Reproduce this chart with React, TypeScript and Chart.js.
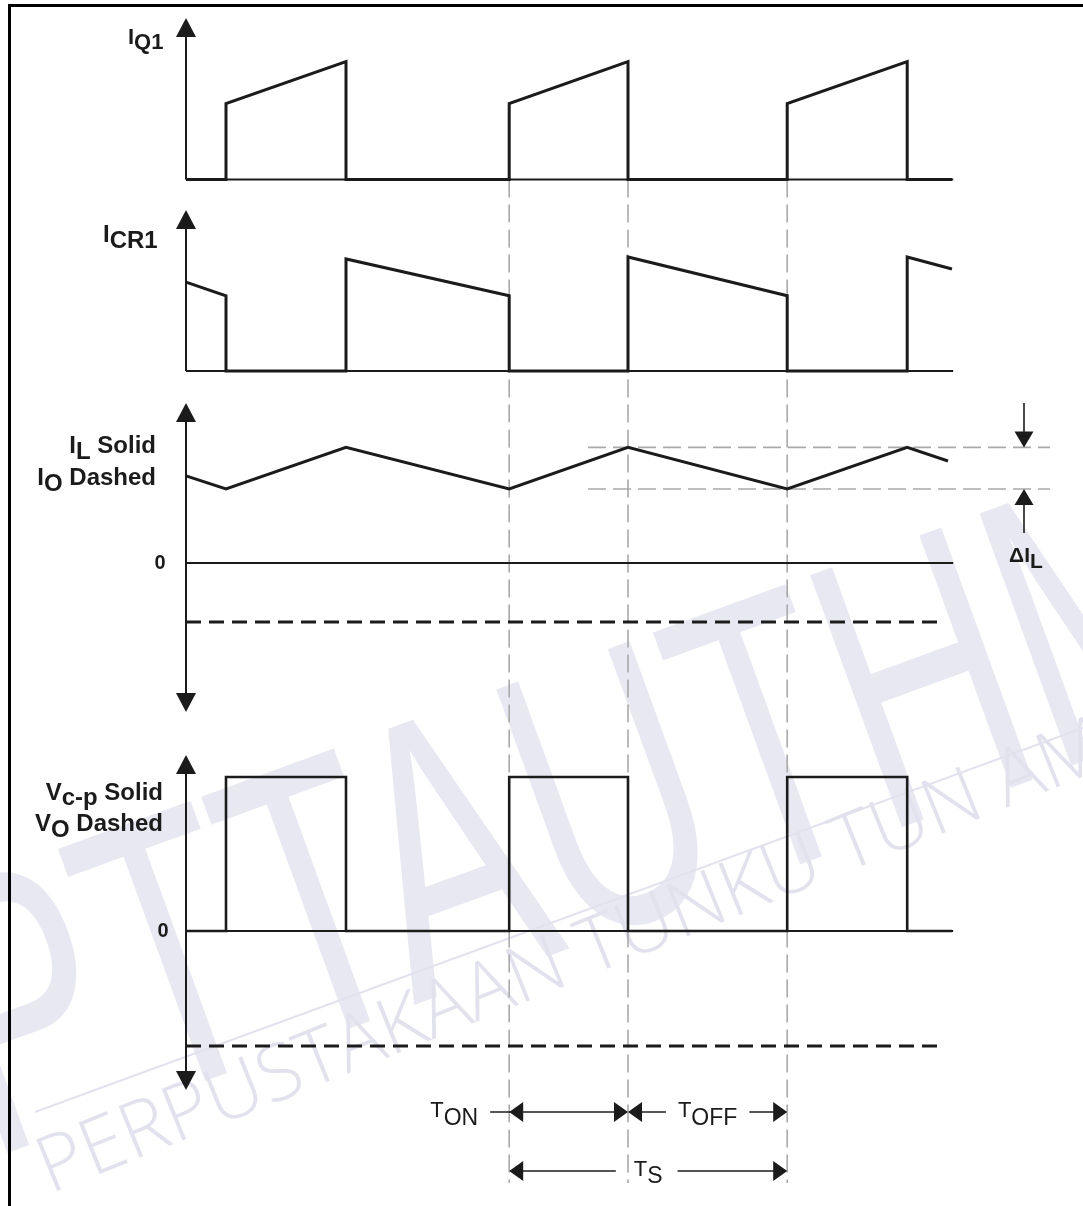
import React, { useEffect, useRef } from 'react';
import { Chart, registerables } from 'chart.js';

Chart.register(...registerables);

const CANVAS_W = 1083;
const CANVAS_H = 1206;
const FONT = '"Liberation Sans", Arial, Helvetica, sans-serif';
const INK = '#1b1b1b';
const GUIDE = '#a9a9a9';

// ---------- data (time / amplitude in arbitrary units) ----------
const SWITCH_ON = [1.0, 8.08, 15.03];
const SWITCH_OFF = [4.0, 11.05, 18.03];
const AXIS_END = 19.18;

const IQ1_TIME = [0, 1.0, 1.0, 4.0, 4.0, 8.08, 8.08, 11.05, 11.05, 15.03, 15.03, 18.03, 18.03, 19.15];
const IQ1_VALUE = [0, 0, 1.9, 2.95, 0, 0, 1.9, 2.95, 0, 0, 1.9, 2.95, 0, 0];

const ICR1_TIME = [0, 1.0, 1.0, 4.0, 4.0, 8.08, 8.08, 11.05, 11.05, 15.03, 15.03, 18.03, 18.03, 19.15];
const ICR1_VALUE = [2.22, 1.88, 0, 0, 2.8, 1.88, 0, 0, 2.85, 1.88, 0, 0, 2.85, 2.55];

const IL_TIME = [0, 1.0, 4.0, 8.08, 11.05, 15.03, 18.03, 19.05];
const IL_VALUE = [2.18, 1.85, 2.89, 1.85, 2.89, 1.85, 2.89, 2.55];
const IO_TIME = [0, 18.78];
const IO_VALUE = [-1.475, -1.475];
const IL_PEAK = 2.89;
const IL_VALLEY = 1.85;
const RIPPLE_TIME = [10.05, 21.6];

const VCP_TIME = [0, 1.0, 1.0, 4.0, 4.0, 8.08, 8.08, 11.05, 11.05, 15.03, 15.03, 18.03, 18.03, 19.15];
const VCP_VALUE = [0, 0, 3.85, 3.85, 0, 0, 3.85, 3.85, 0, 0, 3.85, 3.85, 0, 0];
const VO_TIME = [0, 18.78];
const VO_VALUE = [-2.875, -2.875];

// ---------- text ----------
type Part = { text: string; sub?: boolean };
const LABEL_IQ1: Part[] = [{ text: 'I' }, { text: 'Q1', sub: true }];
const LABEL_ICR1: Part[] = [{ text: 'I' }, { text: 'CR1', sub: true }];
const LABEL_IL: Part[] = [{ text: 'I' }, { text: 'L', sub: true }, { text: ' Solid' }];
const LABEL_IO: Part[] = [{ text: 'I' }, { text: 'O', sub: true }, { text: ' Dashed' }];
const LABEL_VCP: Part[] = [{ text: 'V' }, { text: 'c-p', sub: true }, { text: ' Solid' }];
const LABEL_VO: Part[] = [{ text: 'V' }, { text: 'O', sub: true }, { text: ' Dashed' }];
const LABEL_DIL: Part[] = [{ text: '\u0394I' }, { text: 'L', sub: true }];
const LABEL_TON: Part[] = [{ text: 'T' }, { text: 'ON', sub: true }];
const LABEL_TOFF: Part[] = [{ text: 'T' }, { text: 'OFF', sub: true }];
const LABEL_TS: Part[] = [{ text: 'T' }, { text: 'S', sub: true }];
const ZERO_LABEL = '0';
const WATERMARK_BIG = 'PTTAUTHM';
const WATERMARK_SMALL = 'PERPUSTAKAAN TUNKU TUN AMINAH';

// ---------- layout (scale placement) ----------
const PX_PER_UNIT = 40;
const X_ORIGIN_PX = 186;
const PANEL_ZERO_PX = { yQ: 179.5, yC: 371, yL: 563, yV: 931 };
const AXIS_TOP = { yQ: 4.04, yC: 4.025, yL: 4.0, yV: 4.4 };
const AXIS_BOTTOM = { yQ: 0, yC: 0, yL: -3.725, yV: -3.975 };
const GUIDE_BOTTOM_V = -6.3;
const TIMING_ROW1_V = -4.525;
const TIMING_ROW2_V = -6.0;
const DIL_TAIL_TOP_L = 4.0;
const DIL_TAIL_BOTTOM_L = 0.75;
const DIL_TIME = 20.95;

function panelScale(zeroPx: number) {
  return {
    type: 'linear' as const,
    display: false,
    min: -(CANVAS_H - zeroPx) / PX_PER_UNIT,
    max: zeroPx / PX_PER_UNIT,
  };
}

function arrowHead(ctx: CanvasRenderingContext2D, x: number, y: number, dir: string, len: number, half: number) {
  ctx.beginPath();
  ctx.moveTo(x, y);
  if (dir === 'up') { ctx.lineTo(x - half, y + len); ctx.lineTo(x + half, y + len); }
  if (dir === 'down') { ctx.lineTo(x - half, y - len); ctx.lineTo(x + half, y - len); }
  if (dir === 'left') { ctx.lineTo(x + len, y - half); ctx.lineTo(x + len, y + half); }
  if (dir === 'right') { ctx.lineTo(x - len, y - half); ctx.lineTo(x - len, y + half); }
  ctx.closePath();
  ctx.fill();
}

function line(ctx: CanvasRenderingContext2D, x1: number, y1: number, x2: number, y2: number) {
  ctx.beginPath();
  ctx.moveTo(x1, y1);
  ctx.lineTo(x2, y2);
  ctx.stroke();
}

function richWidth(ctx: CanvasRenderingContext2D, parts: Part[], font: string, subFont: string) {
  return parts.reduce((w, p) => {
    ctx.font = p.sub ? subFont : font;
    return w + ctx.measureText(p.text).width;
  }, 0);
}

function richText(ctx: CanvasRenderingContext2D, parts: Part[], x: number, y: number, align: string,
  font: string, subFont: string, subShift: number) {
  const total = richWidth(ctx, parts, font, subFont);
  let cx = align === 'right' ? x - total : align === 'center' ? x - total / 2 : x;
  ctx.textAlign = 'left';
  ctx.textBaseline = 'alphabetic';
  for (const p of parts) {
    ctx.font = p.sub ? subFont : font;
    ctx.fillText(p.text, cx, p.sub ? y + subShift : y);
    cx += ctx.measureText(p.text).width;
  }
  return total;
}

const diagramPlugin = {
  id: 'diagram',
  beforeDatasetsDraw(chart: any) {
    const ctx: CanvasRenderingContext2D = chart.ctx;
    const sx = chart.scales.x;
    const s = chart.scales;

    // watermark
    ctx.save();
    ctx.fillStyle = 'rgb(232,232,242)';
    ctx.translate(-12, 1160);
    ctx.rotate(-20 * Math.PI / 180);
    ctx.scale(0.64, 1);
    ctx.font = `390px ${FONT}`;
    ctx.fillText(WATERMARK_BIG, 0, 0);
    ctx.restore();

    ctx.save();
    ctx.fillStyle = 'rgb(226,226,238)';
    ctx.translate(50, 1194);
    ctx.rotate(-22 * Math.PI / 180);
    ctx.font = `300 78px "Open Sans", ${FONT}`;
    ctx.fillText(WATERMARK_SMALL, 0, 0);
    ctx.restore();

    ctx.save();
    ctx.strokeStyle = 'rgb(226,226,238)';
    ctx.lineWidth = 2;
    line(ctx, 35, 1112, 1083, 728);
    ctx.restore();

    // vertical timing guides
    ctx.save();
    ctx.strokeStyle = GUIDE;
    ctx.lineWidth = 1.6;
    ctx.setLineDash([18, 7]);
    const guideTimes = [SWITCH_ON[1], SWITCH_OFF[1], SWITCH_ON[2]];
    for (const t of guideTimes) {
      const px = sx.getPixelForValue(t);
      line(ctx, px, s.yQ.getPixelForValue(0), px, s.yV.getPixelForValue(GUIDE_BOTTOM_V));
    }
    ctx.restore();

    // panel axes with arrow heads
    ctx.save();
    ctx.strokeStyle = INK;
    ctx.fillStyle = INK;
    ctx.lineWidth = 2;
    const ax = sx.getPixelForValue(0);
    for (const id of ['yQ', 'yC', 'yL', 'yV']) {
      const sc = s[id];
      const top = sc.getPixelForValue((AXIS_TOP as any)[id]);
      const bottomVal = (AXIS_BOTTOM as any)[id];
      const bottom = sc.getPixelForValue(bottomVal);
      line(ctx, ax, bottom - (bottomVal < 0 ? 10 : 0), ax, top + 10);
      line(ctx, ax, sc.getPixelForValue(0), sx.getPixelForValue(AXIS_END), sc.getPixelForValue(0));
      arrowHead(ctx, ax, top, 'up', 19, 10);
      if (bottomVal < 0) arrowHead(ctx, ax, bottom, 'down', 19, 10);
    }
    ctx.restore();
  },
  afterDatasetsDraw(chart: any) {
    const ctx: CanvasRenderingContext2D = chart.ctx;
    const sx = chart.scales.x;
    const s = chart.scales;
    ctx.save();
    ctx.fillStyle = INK;
    ctx.strokeStyle = INK;

    const B24 = `bold 24px ${FONT}`;
    richText(ctx, LABEL_IQ1, 128, 44, 'left', `bold 22px ${FONT}`, `bold 22px ${FONT}`, 5);
    richText(ctx, LABEL_ICR1, 103, 242, 'left', B24, B24, 6);
    richText(ctx, LABEL_IL, 156, 453, 'right', B24, B24, 6);
    richText(ctx, LABEL_IO, 156, 485, 'right', B24, B24, 6);
    richText(ctx, LABEL_VCP, 163, 800, 'right', B24, B24, 5);
    richText(ctx, LABEL_VO, 163, 831, 'right', B24, B24, 6);

    ctx.font = `bold 20px ${FONT}`;
    ctx.textAlign = 'center';
    ctx.textBaseline = 'middle';
    ctx.fillText(ZERO_LABEL, 160, s.yL.getPixelForValue(0));
    ctx.fillText(ZERO_LABEL, 163, s.yV.getPixelForValue(0));

    // delta IL marker
    ctx.lineWidth = 1.6;
    const dx = sx.getPixelForValue(DIL_TIME);
    const yPeak = s.yL.getPixelForValue(IL_PEAK);
    const yValley = s.yL.getPixelForValue(IL_VALLEY);
    line(ctx, dx, s.yL.getPixelForValue(DIL_TAIL_TOP_L), dx, yPeak - 12);
    arrowHead(ctx, dx, yPeak, 'down', 16, 9.5);
    line(ctx, dx, s.yL.getPixelForValue(DIL_TAIL_BOTTOM_L), dx, yValley + 12);
    arrowHead(ctx, dx, yValley, 'up', 16, 9.5);
    richText(ctx, LABEL_DIL, dx + 2, 562, 'center', `bold 21px ${FONT}`, `bold 21px ${FONT}`, 6);

    // timing annotations
    const N22 = `22px ${FONT}`;
    const N23 = `23px ${FONT}`;
    const xOn = sx.getPixelForValue(SWITCH_ON[1]);
    const xOff = sx.getPixelForValue(SWITCH_OFF[1]);
    const xNext = sx.getPixelForValue(SWITCH_ON[2]);
    const r1 = s.yV.getPixelForValue(TIMING_ROW1_V);
    const r2 = s.yV.getPixelForValue(TIMING_ROW2_V);
    ctx.lineWidth = 1.6;
    line(ctx, xOn - 19, r1, xOff - 5, r1);
    arrowHead(ctx, xOn, r1, 'left', 14, 10);
    arrowHead(ctx, xOff, r1, 'right', 14, 10);
    richText(ctx, LABEL_TON, xOn - 31, r1 + 5, 'right', N22, N23, 8);
    arrowHead(ctx, xOff, r1, 'left', 14, 10);
    const mid1 = (xOff + xNext) / 2;
    const wOff = richWidth(ctx, LABEL_TOFF, N22, N23);
    line(ctx, xOff + 5, r1, mid1 - wOff / 2 - 12, r1);
    line(ctx, mid1 + wOff / 2 + 12, r1, xNext - 5, r1);
    arrowHead(ctx, xNext, r1, 'right', 14, 10);
    richText(ctx, LABEL_TOFF, mid1, r1 + 5, 'center', N22, N23, 8);
    const mid2 = (xOn + xNext) / 2;
    const wS = richWidth(ctx, LABEL_TS, N22, N23);
    arrowHead(ctx, xOn, r2, 'left', 14, 10);
    line(ctx, xOn + 5, r2, mid2 - wS / 2 - 18, r2);
    line(ctx, mid2 + wS / 2 + 15, r2, xNext - 5, r2);
    arrowHead(ctx, xNext, r2, 'right', 14, 10);
    richText(ctx, LABEL_TS, mid2, r2 + 5, 'center', N22, N23, 7);

    // frame
    ctx.lineWidth = 3;
    ctx.strokeStyle = '#000';
    ctx.beginPath();
    ctx.moveTo(9.5, CANVAS_H);
    ctx.lineTo(9.5, 5.5);
    ctx.lineTo(CANVAS_W, 5.5);
    ctx.stroke();
    ctx.restore();
  },
};

function series(label: string, xs: number[], ys: number[], yAxisID: string, extra: any = {}) {
  return {
    type: 'line' as const,
    label,
    data: xs.map((t, i) => ({ x: t, y: ys[i] })),
    yAxisID,
    borderColor: INK,
    borderWidth: 3,
    pointRadius: 0,
    tension: 0,
    fill: false,
    borderJoinStyle: 'miter' as const,
    borderCapStyle: 'butt' as const,
    order: 0,
    ...extra,
  };
}

export default function App() {
  const ref = useRef<HTMLCanvasElement | null>(null);
  useEffect(() => {
    document.body.style.margin = '0';
    const canvas = ref.current!;
    const chart = new Chart(canvas, {
      type: 'line',
      data: {
        datasets: [
          series('IQ1', IQ1_TIME, IQ1_VALUE, 'yQ'),
          series('ICR1', ICR1_TIME, ICR1_VALUE, 'yC'),
          series('IL', IL_TIME, IL_VALUE, 'yL'),
          series('IO', IO_TIME, IO_VALUE, 'yL', { borderDash: [15, 8] }),
          series('IL peak', RIPPLE_TIME, [IL_PEAK, IL_PEAK], 'yL', { borderColor: GUIDE, borderWidth: 1.6, borderDash: [18, 7], order: 5 }),
          series('IL valley', RIPPLE_TIME, [IL_VALLEY, IL_VALLEY], 'yL', { borderColor: GUIDE, borderWidth: 1.6, borderDash: [18, 7], order: 5 }),
          series('Vc-p', VCP_TIME, VCP_VALUE, 'yV', { borderWidth: 2.6 }),
          series('VO', VO_TIME, VO_VALUE, 'yV', { borderDash: [15, 8] }),
        ],
      },
      options: {
        animation: false,
        responsive: false,
        maintainAspectRatio: false,
        devicePixelRatio: 1,
        events: [],
        layout: { padding: 0 },
        plugins: { legend: { display: false }, tooltip: { enabled: false } },
        scales: {
          x: {
            type: 'linear',
            display: false,
            min: -X_ORIGIN_PX / PX_PER_UNIT,
            max: (CANVAS_W - X_ORIGIN_PX) / PX_PER_UNIT,
          },
          yQ: panelScale(PANEL_ZERO_PX.yQ),
          yC: panelScale(PANEL_ZERO_PX.yC),
          yL: panelScale(PANEL_ZERO_PX.yL),
          yV: panelScale(PANEL_ZERO_PX.yV),
        },
      },
      plugins: [diagramPlugin],
    });
    return () => chart.destroy();
  }, []);
  return (
    <div style={{ position: 'absolute', left: 0, top: 0, width: CANVAS_W, height: CANVAS_H, background: '#fff' }}>
      <canvas ref={ref} width={CANVAS_W} height={CANVAS_H} style={{ display: 'block', width: CANVAS_W, height: CANVAS_H }} />
    </div>
  );
}
